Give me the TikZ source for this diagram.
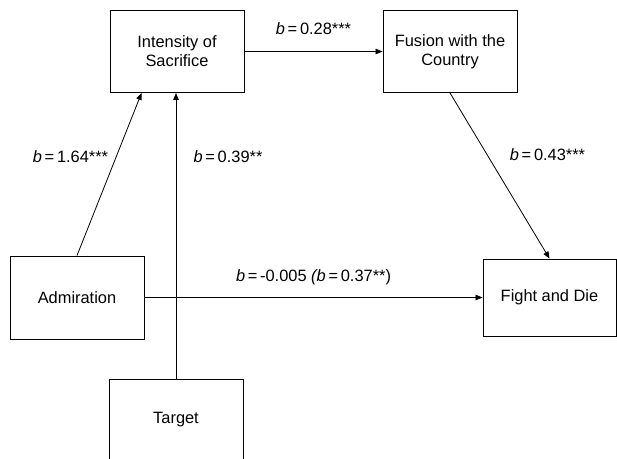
\documentclass[tikz,border=0pt]{standalone}
\usepackage{fontspec}
\setmainfont{Liberation Sans}
\usetikzlibrary{arrows.meta,calc}
\begin{document}
\begin{tikzpicture}[x=1pt,y=-1pt,
  box/.style={draw=black,line width=0.9pt,minimum width=134pt,minimum height=82pt,
    inner sep=0pt,align=center,font=\fontsize{16.4}{19}\selectfont},
  conn/.style={line width=0.8pt,-{Triangle[length=7pt,width=5.5pt]}},
  lab/.style={inner sep=0pt,font=\fontsize{16.4}{19}\selectfont}]
\useasboundingbox (0,0) rectangle (617,458);
\clip (0,0) rectangle (617,458);
\node[box] (int) at (177,51.5) {Intensity of\\Sacrifice};
\node[box] (fus) at (450,51.5) {Fusion with the\\Country};
\node[box,minimum height=83pt] (adm) at (77,297.5) {Admiration};
\node[box,minimum width=133pt,minimum height=77pt] (fig) at (549.5,297.5) {Fight and Die};
\node[box] (tgt) at (176,420) {Target};
\coordinate (intin) at ($(int.south west)+(32,0)$);
\draw[conn] (int.east) -- (fus.west);
\draw[conn] (adm.north) -- (intin);
\draw[conn] (tgt.north) -- (tgt.north |- int.south);
\draw[conn] (fus.south) -- (fig.north);
\draw[conn] (adm.east) -- (fig.west);
\node[lab] (l1) at (313.5,29) {\textit{b}\,=\,0.28***};
\node[lab] (l2) at (70.5,157) {\textit{b}\,=\,1.64***};
\node[lab] (l3) at (228,157) {\textit{b}\,=\,0.39**};
\node[lab] (l4) at (547.5,155) {\textit{b}\,=\,0.43***};
\node[lab] (l5) at (313.5,277) {\textit{b}\,=\,-0.005 \textit{(b}\,=\,0.37**)};
\end{tikzpicture}
\end{document}
